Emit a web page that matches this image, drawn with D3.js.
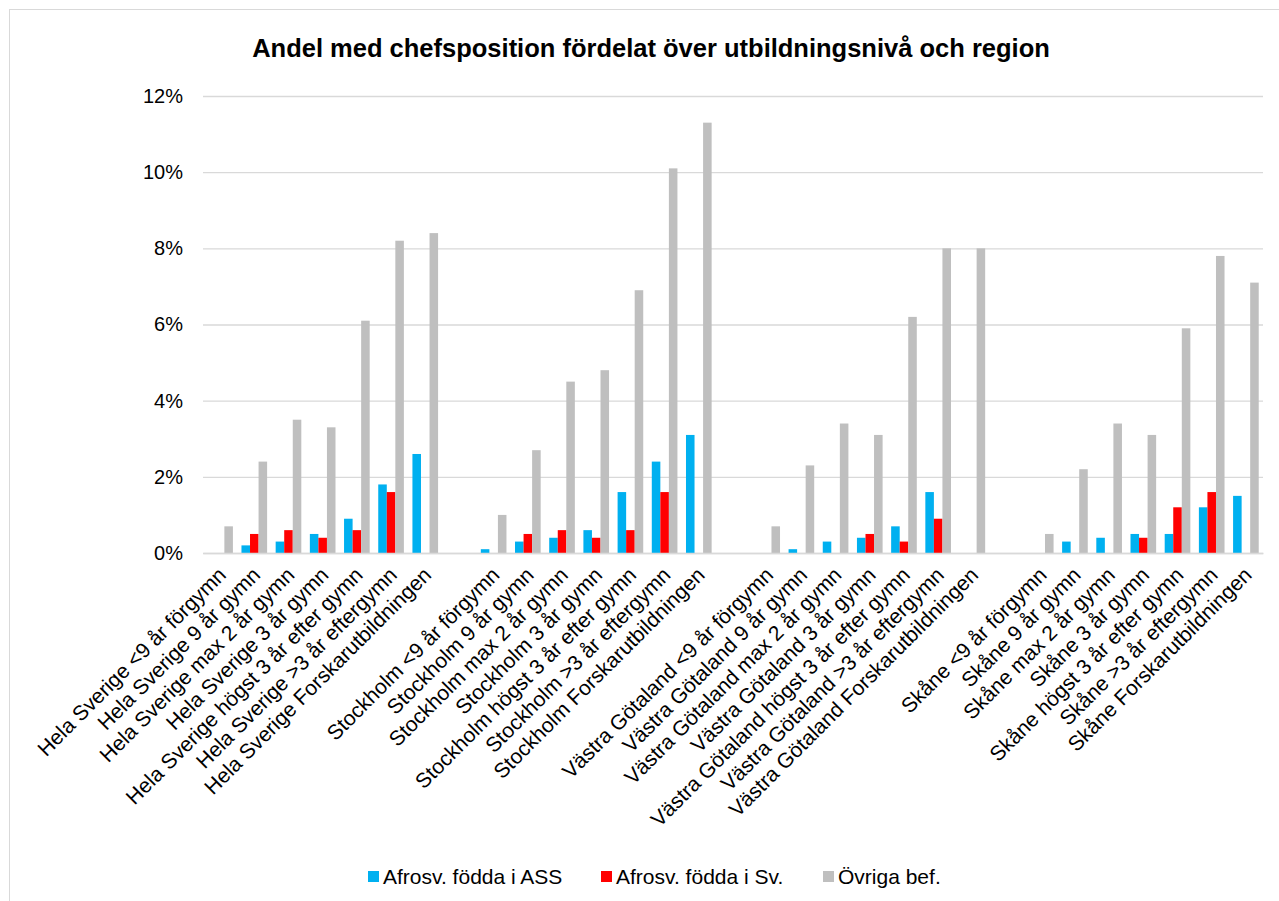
<!DOCTYPE html>
<html>
<head>
<meta charset="utf-8">
<script src="https://cdn.jsdelivr.net/npm/d3@7"></script>
<style>
  body { margin: 0; background: #fff; }
  text { font-family: "Liberation Sans", Arial, sans-serif; fill: #000; }
</style>
</head>
<body>
<script>
// categories (blank entries are the empty spacer slots between regions)
var categories = [
    "Hela Sverige <9 år förgymn", "Hela Sverige 9 år gymn", "Hela Sverige max 2 år gymn",
    "Hela Sverige 3 år gymn", "Hela Sverige högst 3 år efter gymn", "Hela Sverige >3 år eftergymn",
    "Hela Sverige Forskarutbildningen", "",
    "Stockholm <9 år förgymn", "Stockholm 9 år gymn", "Stockholm max 2 år gymn",
    "Stockholm 3 år gymn", "Stockholm högst 3 år efter gymn", "Stockholm >3 år eftergymn",
    "Stockholm Forskarutbildningen", "",
    "Västra Götaland <9 år förgymn", "Västra Götaland 9 år gymn", "Västra Götaland max 2 år gymn",
    "Västra Götaland 3 år gymn", "Västra Götaland högst 3 år efter gymn", "Västra Götaland >3 år eftergymn",
    "Västra Götaland Forskarutbildningen", "",
    "Skåne <9 år förgymn", "Skåne 9 år gymn", "Skåne max 2 år gymn",
    "Skåne 3 år gymn", "Skåne högst 3 år efter gymn", "Skåne >3 år eftergymn",
    "Skåne Forskarutbildningen"
];

var seriesNames = ["Afrosv. födda i ASS", "Afrosv. födda i Sv.", "Övriga bef."];

// values in percent
var afroASS = [null, 0.2, 0.3, 0.5, 0.9, 1.8, 2.6, null,
               0.1, 0.3, 0.4, 0.6, 1.6, 2.4, 3.1, null,
               null, 0.1, 0.3, 0.4, 0.7, 1.6, null, null,
               null, 0.3, 0.4, 0.5, 0.5, 1.2, 1.5];
var afroSv = [null, 0.5, 0.6, 0.4, 0.6, 1.6, null, null,
              null, 0.5, 0.6, 0.4, 0.6, 1.6, null, null,
              null, null, null, 0.5, 0.3, 0.9, null, null,
              null, null, null, 0.4, 1.2, 1.6, null];
var ovriga = [0.7, 2.4, 3.5, 3.3, 6.1, 8.2, 8.4, null,
              1.0, 2.7, 4.5, 4.8, 6.9, 10.1, 11.3, null,
              0.7, 2.3, 3.4, 3.1, 6.2, 8.0, 8.0, null,
              0.5, 2.2, 3.4, 3.1, 5.9, 7.8, 7.1];

var yTicks = [0, 2, 4, 6, 8, 10, 12];
var colors = ["#00B0F0", "#FF0000", "#BFBFBF"];

var series = [afroASS, afroSv, ovriga];

var W = 1279, H = 901;
var margin = {top: 96, right: 16, bottom: 348, left: 203};
var width = W - margin.left - margin.right,
    height = H - margin.top - margin.bottom;

var svg = d3.select("body").append("svg")
    .attr("width", W)
    .attr("height", H);

// chart border
svg.append("rect")
    .attr("x", 9.5).attr("y", 9.5)
    .attr("width", W + 10).attr("height", H + 10)
    .attr("fill", "none")
    .attr("stroke", "#d9d9d9");

svg.append("text")
    .attr("x", 651)
    .attr("y", 57)
    .attr("text-anchor", "middle")
    .style("font-size", "25.5px")
    .style("font-weight", "bold")
    .text("Andel med chefsposition fördelat över utbildningsnivå och region");

var g = svg.append("g")
    .attr("transform", "translate(" + margin.left + "," + margin.top + ")");

var x = d3.scaleBand()
    .domain(d3.range(categories.length))
    .range([0, width])
    .paddingInner(0.25)
    .paddingOuter(0.125);

var xs = d3.scaleBand()
    .domain(d3.range(series.length))
    .range([0, x.bandwidth()]);

var y = d3.scaleLinear()
    .domain([0, 12])
    .range([height, 0]);

// gridlines + y labels
var yAxis = g.append("g")
    .call(d3.axisLeft(y).tickValues(yTicks).tickSize(-width).tickFormat(function(d) { return d + "%"; }));
yAxis.select(".domain").remove();
yAxis.selectAll(".tick line").attr("stroke", "#d9d9d9").attr("stroke-width", 1.3);
yAxis.selectAll(".tick text")
    .attr("x", -20)
    .style("font-size", "20px")
    .style("font-family", "'Liberation Sans', Arial, sans-serif");

// bars
series.forEach(function(vals, si) {
    g.append("g")
        .selectAll("rect")
        .data(vals.map(function(v, i) { return {i: i, v: v}; }).filter(function(d) { return d.v != null; }))
        .enter().append("rect")
        .attr("x", function(d) { return x(d.i) + xs(si); })
        .attr("y", function(d) { return y(d.v); })
        .attr("width", xs.bandwidth())
        .attr("height", function(d) { return height - y(d.v); })
        .attr("fill", colors[si]);
});

// x axis
var xAxis = g.append("g")
    .attr("transform", "translate(0," + height + ")")
    .call(d3.axisBottom(x).tickSize(0).tickFormat(function(i) { return categories[i]; }));
xAxis.select(".domain").attr("stroke", "#d9d9d9").attr("stroke-width", 1.5);
xAxis.selectAll(".tick text")
    .style("font-size", "21px")
    .style("font-family", "'Liberation Sans', Arial, sans-serif")
    .attr("text-anchor", "end")
    .attr("dy", "0.35em")
    .attr("transform", "translate(2,18) rotate(-45)")
    .attr("y", 0);

// legend
var legendX = [368, 601, 823];
var legend = svg.append("g").attr("transform", "translate(0,877)");
seriesNames.forEach(function(name, i) {
    legend.append("rect")
        .attr("x", legendX[i]).attr("y", -6)
        .attr("width", 11).attr("height", 11)
        .attr("fill", colors[i]);
    legend.append("text")
        .attr("x", legendX[i] + 15)
        .attr("y", 0)
        .attr("dy", "0.35em")
        .style("font-size", "21px")
        .text(name);
});
</script>
</body>
</html>
